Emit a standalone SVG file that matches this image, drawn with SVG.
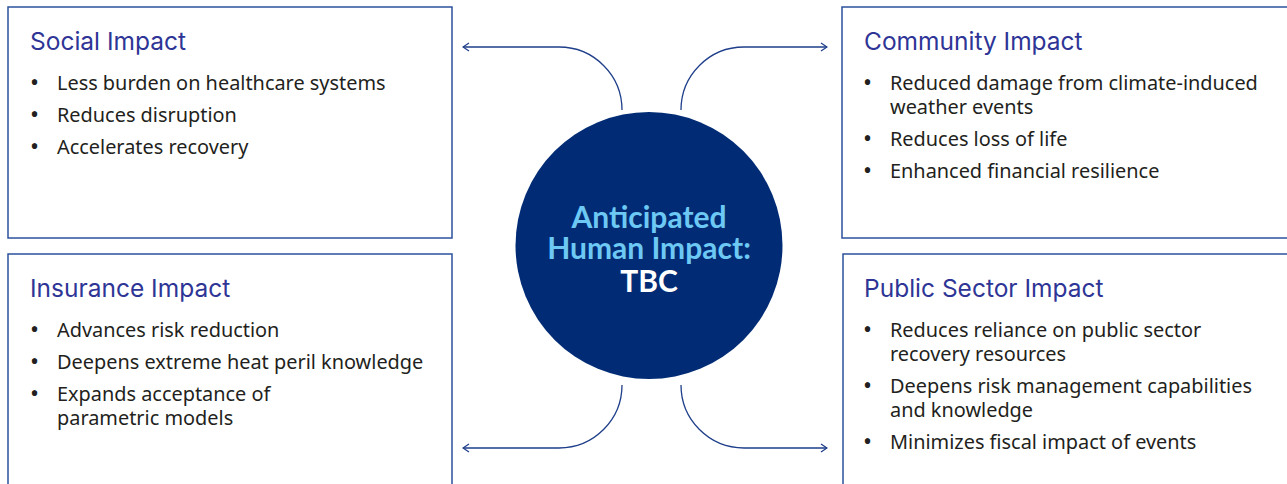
<svg xmlns="http://www.w3.org/2000/svg" width="1287" height="484" viewBox="0 0 1287 484">
<style>
.box{fill:#fff;stroke:#2b529c;stroke-width:1.5}
.title{font-family:Inter,"Noto Sans",sans-serif;font-size:24.5px;fill:#2e3596}
.item{font-family:"Noto Sans","Open Sans",sans-serif;font-size:19.9px;fill:#231f20}
.bul{font-family:"Noto Sans","Open Sans",sans-serif;font-size:24px;fill:#231f20}
.conn{fill:none;stroke:#1f3f8a;stroke-width:1.3}
.ctext{font-family:Lato,"Noto Sans",sans-serif;font-weight:bold;font-size:30px;text-anchor:middle}
</style>
<defs>
<marker id="arr" viewBox="0 0 10 10" refX="9" refY="5" markerWidth="10" markerHeight="10" markerUnits="userSpaceOnUse" orient="auto">
<path d="M3 1 L9 5 L3 9" fill="none" stroke="#1f3f8a" stroke-width="1.3"/>
</marker>
</defs>
<rect width="1287" height="484" fill="#fff"/>
<g id="social">
<rect class="box" x="8" y="7" width="444" height="231"/>
<text class="title" x="30" y="50">Social Impact</text>
<text class="bul" x="30" y="91">•</text><text class="item" x="57" y="90">Less burden on healthcare systems</text>
<text class="bul" x="30" y="123">•</text><text class="item" x="57" y="122">Reduces disruption</text>
<text class="bul" x="30" y="155">•</text><text class="item" x="57" y="154">Accelerates recovery</text>
</g>
<g id="community">
<rect class="box" x="842" y="7" width="460" height="231"/>
<text class="title" x="864" y="50">Community Impact</text>
<text class="bul" x="863" y="91">•</text><text class="item" x="890" y="90">Reduced damage from climate-induced<tspan x="890" dy="24">weather events</tspan></text>
<text class="bul" x="863" y="147">•</text><text class="item" x="890" y="146">Reduces loss of life</text>
<text class="bul" x="863" y="179">•</text><text class="item" x="890" y="178">Enhanced financial resilience</text>
</g>
<g id="insurance">
<rect class="box" x="8" y="254" width="444" height="250"/>
<text class="title" x="30" y="297">Insurance Impact</text>
<text class="bul" x="30" y="338">•</text><text class="item" x="57" y="337">Advances risk reduction</text>
<text class="bul" x="30" y="370">•</text><text class="item" x="57" y="369">Deepens extreme heat peril knowledge</text>
<text class="bul" x="30" y="402">•</text><text class="item" x="57" y="401">Expands acceptance of<tspan x="57" dy="24">parametric models</tspan></text>
</g>
<g id="public">
<rect class="box" x="843" y="254" width="460" height="250"/>
<text class="title" x="864" y="297">Public Sector Impact</text>
<text class="bul" x="863" y="338">•</text><text class="item" x="890" y="337">Reduces reliance on public sector<tspan x="890" dy="24">recovery resources</tspan></text>
<text class="bul" x="863" y="394">•</text><text class="item" x="890" y="393">Deepens risk management capabilities<tspan x="890" dy="24">and knowledge</tspan></text>
<text class="bul" x="863" y="450">•</text><text class="item" x="890" y="449">Minimizes fiscal impact of events</text>
</g>
<g id="center">
<circle cx="649" cy="245.5" r="133.5" fill="#012c75"/>
<text class="ctext" x="649" y="228" fill="#6dc8f3">Anticipated<tspan x="649" dy="31">Human Impact:</tspan><tspan x="649" dy="33" fill="#fff">TBC</tspan></text>
</g>
<g id="connectors">
<path class="conn" d="M622 110 A63 63 0 0 0 559 47 H463" marker-end="url(#arr)"/>
<path class="conn" d="M681 110 A63 63 0 0 1 744 47 H827" marker-end="url(#arr)"/>
<path class="conn" d="M622 385 A63 63 0 0 1 559 448 H463" marker-end="url(#arr)"/>
<path class="conn" d="M681 385 A63 63 0 0 0 744 448 H827" marker-end="url(#arr)"/>
</g>
</svg>
